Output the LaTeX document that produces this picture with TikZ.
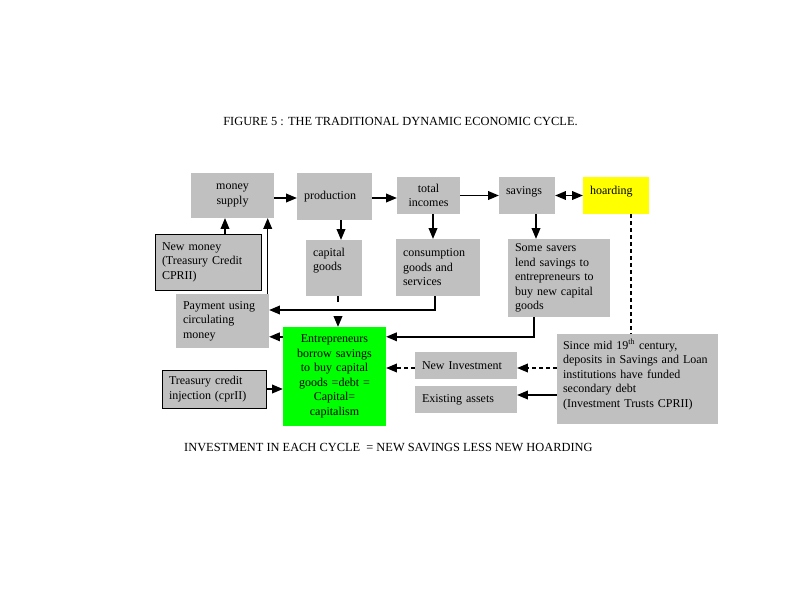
\documentclass[tikz,border=0pt]{standalone}
\usepackage{fontspec}
\setmainfont{Liberation Serif}
\usepackage{xcolor}
\usepackage{tikz}
\usetikzlibrary{shapes.geometric, arrows}

\definecolor{boxgrey}{RGB}{192,192,192}
\definecolor{boxgreen}{RGB}{0,255,0}
\definecolor{boxyellow}{RGB}{255,255,0}

\begin{document}
\begin{tikzpicture}[x=1pt, y=-1pt, >=triangle 45,
        box/.style={fill=boxgrey, inner xsep=7pt, inner ysep=2pt, align=left,
            font=\fontsize{12}{14.5}\selectfont},
        line/.style={line width=1.5pt},
        dash line/.style={line width=1.5pt, dash pattern=on 4pt off 3pt}]
        \useasboundingbox (0,0) rectangle (800,600);

        \node (title) at (400.5,121) {\fontsize{12.4}{14}\selectfont FIGURE 5 : THE TRADITIONAL DYNAMIC ECONOMIC CYCLE.};

        \node[box, align=center, minimum width=83, minimum height=45, text width=69] (supply) at (232.5,195.5) {money\\supply};
        \node[box, minimum width=75, minimum height=47, text width=61] (prod) at (334.5,196.5) {production};
        \node[box, align=center, minimum width=63, minimum height=37, text width=55, inner xsep=4pt] (incomes) at (428.5,195.5) {total\\incomes};
        \node[box, minimum width=56, minimum height=37, text width=42, inner ysep=8pt, text height=9pt, text depth=12pt] (savings) at (527,195.5) {savings};
        \node[box, fill=boxyellow, minimum width=66, minimum height=37, text width=52, inner ysep=8pt, text height=9pt, text depth=12pt] (hoard) at (616,195.5) {hoarding};

        \node[box, draw=black, line width=1pt, minimum width=106, minimum height=56, text width=92] (newmoney) at (208,262) {New money\\(Treasury Credit\\CPRII)};
        \node[box, minimum width=56, minimum height=56, text width=42, inner ysep=7pt, text height=9pt, text depth=33pt] (capgoods) at (334,268) {capital\\goods};
        \node[box, minimum width=84, minimum height=57, text width=70] (consum) at (438,267.5) {consumption\\goods and\\services};
        \node[box, minimum width=102, minimum height=78, text width=88] (lend) at (559,278) {Some savers\\lend savings to\\entrepreneurs to\\buy new capital\\goods};

        \node[box, minimum width=93, minimum height=54, text width=79] (payment) at (222.5,321) {Payment using\\circulating\\money};
        \node[box, fill=boxgreen, align=center, minimum width=103, minimum height=99, text width=95, inner xsep=4pt] (entre) at (334.5,376.5) {Entrepreneurs\\borrow savings\\to buy capital\\goods =debt =\\Capital=\\capitalism};
        \node[box, minimum width=102, minimum height=27, text width=88] (newinv) at (466,365.5) {New Investment};
        \node[box, minimum width=102, minimum height=27, text width=88] (existing) at (466,399.5) {Existing assets};
        \node[box, minimum width=161, minimum height=90, text width=149, inner xsep=6pt, inner ysep=6pt, text height=9pt, text depth=69pt] (since) at (637.5,379) {Since mid 19\textsuperscript{th} century,\\deposits in Savings and Loan\\institutions have funded\\secondary debt\\(Investment Trusts CPRII)};
        \node[box, draw=black, line width=1pt, minimum width=104, minimum height=38, text width=90] (treasury) at (214,389) {Treasury credit\\injection (cprII)};

        \node[anchor=west, inner sep=0pt] (rule) at (184,447) {\fontsize{12.4}{14}\selectfont INVESTMENT IN EACH CYCLE\ \ = NEW SAVINGS LESS NEW HOARDING};

        % top row
        \draw[line, ->] ([yshift=-2.5pt]supply.east) -- ([yshift=-2.5pt]supply.east -| prod.west);
        \draw[line, ->] ([yshift=-1.5pt]prod.east) -- ([yshift=-1.5pt]prod.east -| incomes.west);
        \draw[line, ->] (incomes.east) -- (savings.west);
        \draw[line, <->] (savings.east) -- (hoard.west);
        \draw[dash line] ([xshift=15pt]hoard.south) -- ([xshift=15pt]hoard.south |- since.north);

        % down from the top row
        \draw[line, ->] ([xshift=6.5pt]prod.south) -- ([xshift=6.5pt]prod.south |- capgoods.north);
        \draw[line, ->] ([xshift=4.5pt]incomes.south) -- ([xshift=4.5pt]incomes.south |- consum.north);
        \draw[line, ->] ([xshift=9pt]savings.south) -- ([xshift=9pt]savings.south |- lend.north);
        \draw[line, ->] ([xshift=17pt]newmoney.north) -- ([xshift=17pt]newmoney.north |- supply.south);

        % back to money supply
        \draw[line, ->] ([xshift=-3pt]consum.south) |- ([yshift=11pt]payment.east);
        \draw[line, ->] ([xshift=-1.5pt]payment.north east) -- ([xshift=-1.5pt]payment.north east |- supply.south);
        \draw[line] ([xshift=4pt]capgoods.south) -- ++(0,6);
        \draw[line, ->] ([xshift=3.5pt, yshift=10pt]entre.north) -- ([xshift=3.5pt]entre.north);

        % into and out of the entrepreneurs
        \draw[line, ->] ([yshift=-10pt]entre.north west) -- ([yshift=-10pt]entre.north west -| payment.east);
        \draw[line, ->] ([xshift=-25pt]lend.south) |- ([yshift=-10pt]entre.north east);
        \draw[dash line, ->] ([yshift=-2.5pt]newinv.west) -- ([yshift=-2.5pt]newinv.west -| entre.east);
        \draw[line, ->] (treasury.east) -- (treasury.east -| entre.west);

        % secondary debt
        \draw[dash line, ->] ([yshift=-2.5pt]newinv.east -| since.west) -- ([yshift=-2.5pt]newinv.east);
        \draw[line, ->] ([yshift=4.5pt]existing.east -| since.west) -- ([yshift=4.5pt]existing.east);
    \end{tikzpicture}
\end{document}
